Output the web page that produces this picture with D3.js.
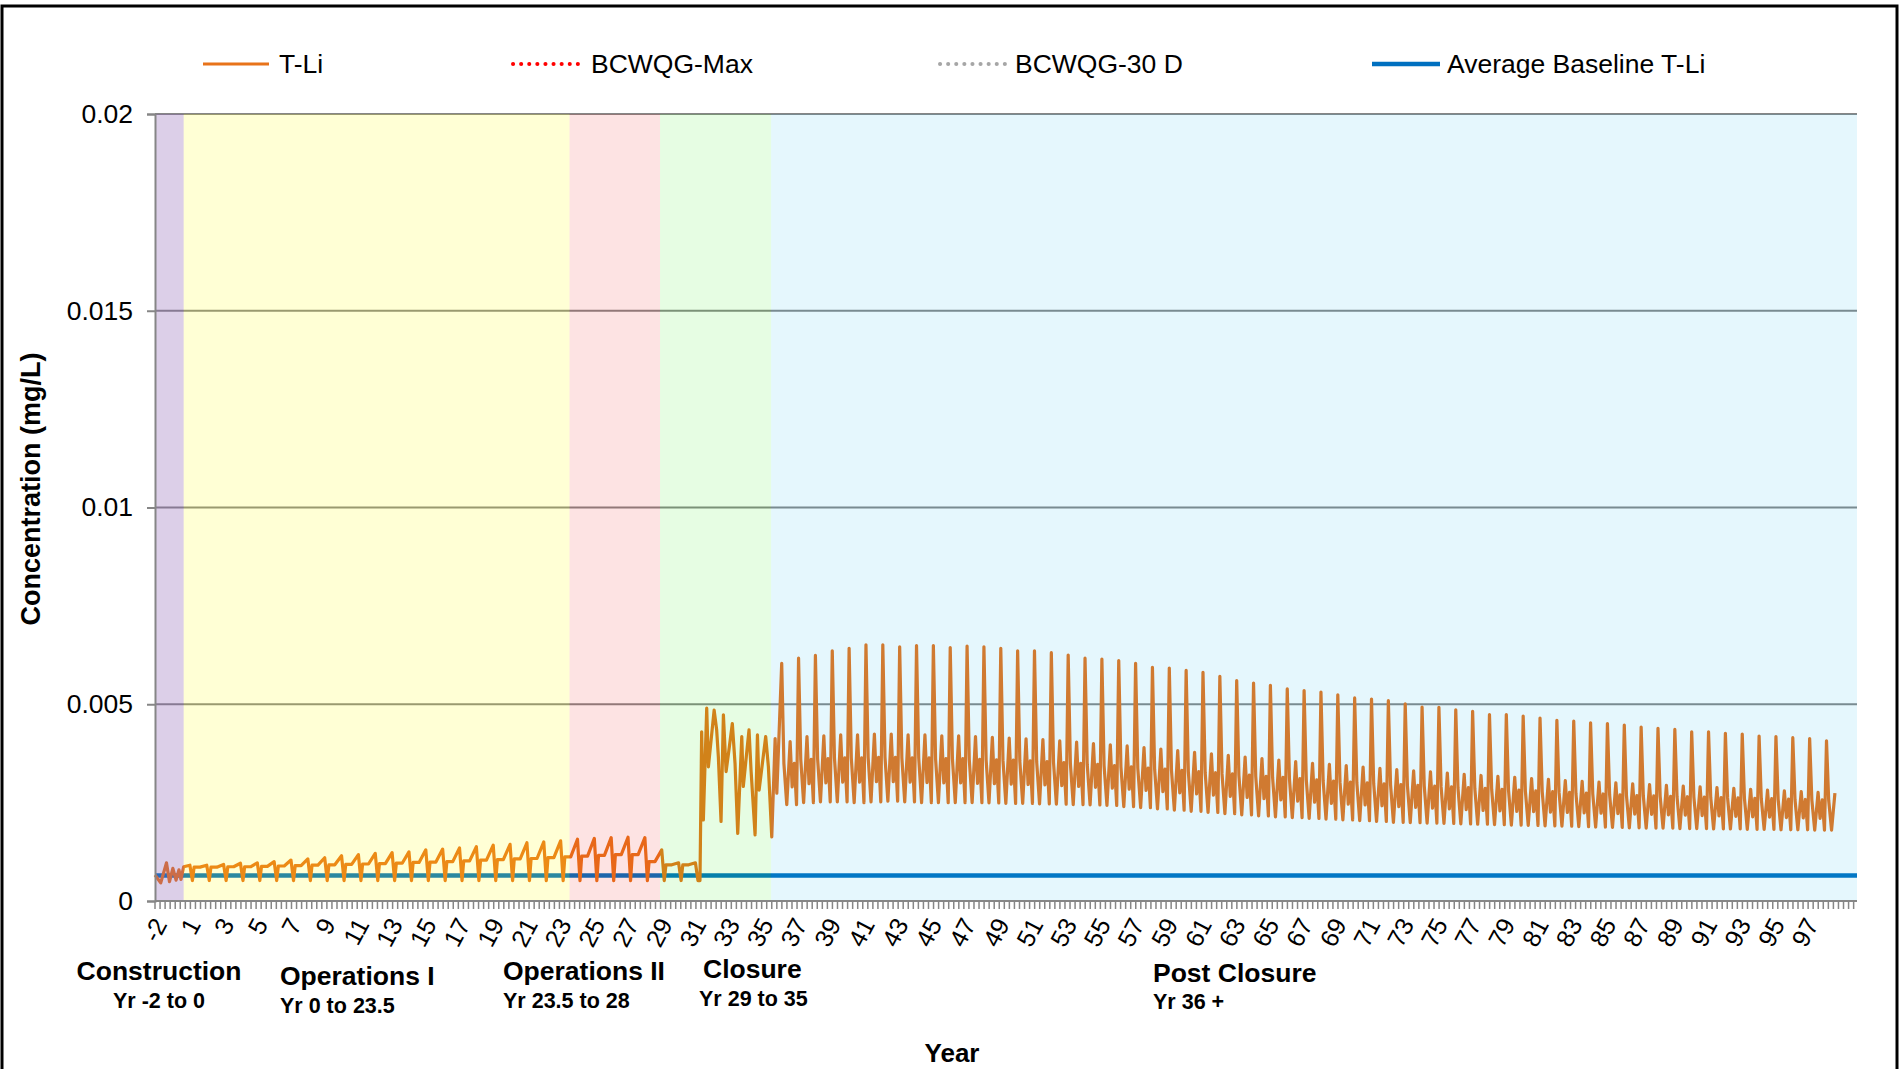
<!DOCTYPE html>
<html lang="en">
<head>
<meta charset="UTF-8">
<title>T-Li concentration</title>
<script src="https://cdn.jsdelivr.net/npm/d3@7"></script>
<style>
  body { margin: 0; background: #fff; }
  svg { display: block; font-family: Arial, "Liberation Sans", sans-serif; }
</style>
</head>
<body>
<svg id="chart" width="1902" height="1069"></svg>
<script>
// x runs in "record years": 0 = left edge of the axis, one unit per annual cycle
var tickLabels = ["-2","1","3","5","7","9","11","13","15","17","19","21","23","25","27","29",
  "31","33","35","37","39","41","43","45","47","49","51","53","55","57","59","61","63","65",
  "67","69","71","73","75","77","79","81","83","85","87","89","91","93","95","97"];
var yTicks = [0, 0.005, 0.01, 0.015, 0.02];
var yTickLabels = ["0", "0.005", "0.01", "0.015", "0.02"];

var phaseNames = ["Construction", "Operations I", "Operations II", "Closure", "Post Closure"];
var phaseRanges = ["Yr -2 to 0", "Yr 0 to 23.5", "Yr 23.5 to 28", "Yr 29 to 35", "Yr 36 +"];
var phaseStart = [0, 1.70, 24.6, 29.97, 36.56];
var phaseEnd = [1.70, 24.6, 29.97, 36.56, 101];

var baselineTLi = 0.00065;

// construction period, read point by point
var constructionYear = [0, 0.34, 0.68, 0.86, 1.06, 1.25, 1.42, 1.54, 1.70, 2.07];
var constructionVal = [0.00066, 0.00046, 0.00097, 0.00049, 0.00083, 0.00053, 0.00079, 0.00055, 0.00087, 0.00091];

// operations: one cycle per year, first trough at year 2.22
var opsFirstTrough = 2.22;
var opsPeak = [0.00091, 0.00093, 0.00096, 0.00097, 0.00100, 0.00104, 0.00107, 0.00110, 0.00115, 0.00118,
  0.00121, 0.00123, 0.00125, 0.00130, 0.00132, 0.00135, 0.00138, 0.00142, 0.00144, 0.00148,
  0.00150, 0.00153, 0.00157, 0.00159, 0.00161, 0.00162, 0.00161, 0.00130, 0.00097, 0.00097];
var opsMid = [0.00086, 0.00086, 0.00087, 0.00087, 0.00088, 0.00089, 0.00090, 0.00091, 0.00092, 0.00093,
  0.00094, 0.00095, 0.00096, 0.00098, 0.00099, 0.00100, 0.00102, 0.00104, 0.00105, 0.00107,
  0.00108, 0.00110, 0.00112, 0.00114, 0.00116, 0.00118, 0.00118, 0.00100, 0.00092, 0.00092];
var opsLow = [0.00052, 0.00052, 0.00052, 0.00052, 0.00052, 0.00052, 0.00052, 0.00052, 0.00052, 0.00052,
  0.00052, 0.00052, 0.00052, 0.00052, 0.00052, 0.00052, 0.00052, 0.00052, 0.00052, 0.00052,
  0.00052, 0.00052, 0.00052, 0.00052, 0.00052, 0.00052, 0.00052, 0.00052, 0.00052, 0.00052];

// closure, read point by point
var closureYear = [32.34, 32.44, 32.54, 32.74, 32.84, 33.18, 33.33, 33.43, 33.59, 33.73, 33.89, 34.02, 34.26,
  34.42, 34.58, 34.82, 34.91, 35.25, 35.37, 35.61, 35.75, 35.85, 36.24, 36.40, 36.60, 36.80, 36.90];
var closureVal = [0.00052, 0.00430, 0.00206, 0.00490, 0.00341, 0.00485, 0.00435, 0.00367, 0.00202, 0.00473,
  0.00329, 0.00371, 0.00451, 0.00350, 0.00172, 0.00418, 0.00291, 0.00435, 0.00333, 0.00168,
  0.00422, 0.00282, 0.00418, 0.00341, 0.00163, 0.00413, 0.00274];

// post closure: one cycle per year, first spike at year 37.19, record ends at 99.8
var postFirstPeak = 37.19;
var postEnd = 99.8;
var postPeak = [0.00604, 0.00617, 0.00624, 0.00636, 0.00642, 0.00651, 0.00651, 0.00646, 0.00649, 0.00649,
  0.00644, 0.00648, 0.00646, 0.00642, 0.00636, 0.00636, 0.00631, 0.00625, 0.00617, 0.00615,
  0.00611, 0.00604, 0.00594, 0.00592, 0.00586, 0.00581, 0.00571, 0.00560, 0.00554, 0.00548,
  0.00539, 0.00535, 0.00531, 0.00524, 0.00516, 0.00513, 0.00509, 0.00501, 0.00493, 0.00492,
  0.00486, 0.00482, 0.00474, 0.00474, 0.00470, 0.00465, 0.00459, 0.00457, 0.00453, 0.00451,
  0.00447, 0.00442, 0.00439, 0.00436, 0.00430, 0.00430, 0.00426, 0.00424, 0.00419, 0.00418,
  0.00415, 0.00413, 0.00407];
var postShoulder = [0.00350, 0.00360, 0.00362, 0.00364, 0.00364, 0.00365, 0.00365, 0.00364, 0.00364, 0.00362,
  0.00362, 0.00360, 0.00359, 0.00358, 0.00356, 0.00354, 0.00352, 0.00350, 0.00347, 0.00344,
  0.00341, 0.00338, 0.00335, 0.00332, 0.00329, 0.00326, 0.00323, 0.00320, 0.00317, 0.00314,
  0.00311, 0.00308, 0.00305, 0.00302, 0.00300, 0.00298, 0.00296, 0.00294, 0.00292, 0.00290,
  0.00288, 0.00286, 0.00284, 0.00282, 0.00280, 0.00278, 0.00276, 0.00274, 0.00272, 0.00270,
  0.00268, 0.00267, 0.00266, 0.00265, 0.00264, 0.00263, 0.00262, 0.00261, 0.00260, 0.00259,
  0.00258, 0.00257, 0.00256];
var postDip = [0.00290, 0.00298, 0.00300, 0.00302, 0.00302, 0.00303, 0.00303, 0.00302, 0.00301, 0.00300,
  0.00300, 0.00299, 0.00298, 0.00297, 0.00296, 0.00295, 0.00293, 0.00291, 0.00289, 0.00287,
  0.00284, 0.00281, 0.00278, 0.00275, 0.00272, 0.00269, 0.00266, 0.00263, 0.00260, 0.00257,
  0.00254, 0.00251, 0.00248, 0.00246, 0.00244, 0.00242, 0.00240, 0.00238, 0.00236, 0.00234,
  0.00232, 0.00230, 0.00229, 0.00228, 0.00227, 0.00226, 0.00225, 0.00224, 0.00223, 0.00222,
  0.00221, 0.00220, 0.00219, 0.00218, 0.00217, 0.00216, 0.00215, 0.00214, 0.00213, 0.00212,
  0.00211, 0.00210, 0.00209];
var postTrough = [0.00245, 0.00250, 0.00252, 0.00252, 0.00250, 0.00252, 0.00254, 0.00252, 0.00250, 0.00250,
  0.00250, 0.00250, 0.00249, 0.00248, 0.00248, 0.00247, 0.00246, 0.00245, 0.00244, 0.00243,
  0.00240, 0.00237, 0.00234, 0.00231, 0.00228, 0.00225, 0.00222, 0.00219, 0.00216, 0.00214,
  0.00212, 0.00210, 0.00208, 0.00206, 0.00204, 0.00202, 0.00200, 0.00199, 0.00198, 0.00197,
  0.00196, 0.00195, 0.00194, 0.00193, 0.00192, 0.00191, 0.00190, 0.00189, 0.00188, 0.00187,
  0.00186, 0.00185, 0.00185, 0.00184, 0.00184, 0.00183, 0.00183, 0.00182, 0.00182, 0.00181,
  0.00181, 0.00180, 0.00180];
var postSecond = [0.00405, 0.00418, 0.00420, 0.00422, 0.00422, 0.00424, 0.00424, 0.00422, 0.00422, 0.00420,
  0.00420, 0.00418, 0.00416, 0.00414, 0.00412, 0.00410, 0.00407, 0.00404, 0.00400, 0.00397,
  0.00394, 0.00390, 0.00386, 0.00382, 0.00378, 0.00374, 0.00370, 0.00366, 0.00362, 0.00358,
  0.00354, 0.00350, 0.00347, 0.00344, 0.00340, 0.00337, 0.00334, 0.00331, 0.00328, 0.00325,
  0.00322, 0.00319, 0.00317, 0.00314, 0.00311, 0.00309, 0.00306, 0.00304, 0.00302, 0.00300,
  0.00298, 0.00296, 0.00294, 0.00292, 0.00290, 0.00288, 0.00286, 0.00284, 0.00282, 0.00280,
  0.00278, 0.00276, 0.00274];

// ---------- layout ----------
var svg = d3.select("#chart");
var plot = { left: 155, right: 1857, top: 114, bottom: 901 };
var x = d3.scaleLinear().domain([0, 101]).range([plot.left, plot.right]);
var y = d3.scaleLinear().domain([0, 0.02]).range([plot.bottom, plot.top]);

var axisGray = "#868686";
var tliColor = "#e8731a";
var baseColor = "#0070c0";
var bandFill = ["rgb(138,95,178)", "rgb(255,255,8)", "rgb(238,22,22)", "rgb(47,238,22)", "rgb(22,180,235)"];
var bandAlpha = [0.3, 0.17, 0.12, 0.12, 0.11];

// build the T-Li series
var tli = [];
constructionYear.forEach(function (t, i) { tli.push([t, constructionVal[i]]); });
opsPeak.forEach(function (p, k) {
  var t0 = opsFirstTrough + k;
  tli.push([t0, opsLow[k]]);
  tli.push([t0 + 0.1, opsMid[k]]);
  tli.push([t0 + 0.45, opsMid[k]]);
  tli.push([t0 + 0.85, p]);
});
tli.push([opsFirstTrough + opsPeak.length, opsLow[opsLow.length - 1]]);
closureYear.forEach(function (t, i) { tli.push([t, closureVal[i]]); });
postPeak.forEach(function (p, k) {
  var t0 = postFirstPeak + k;
  [[0, p], [0.13, postShoulder[k]], [0.3, postTrough[k]], [0.5, postSecond[k]],
   [0.62, postDip[k]], [0.75, postShoulder[k]], [0.88, postTrough[k]]]
    .forEach(function (d) { if (t0 + d[0] <= postEnd) tli.push([t0 + d[0], d[1]]); });
});

// gridlines
svg.append("g").selectAll("line").data(yTicks.slice(1)).enter().append("line")
  .attr("x1", x(0)).attr("x2", plot.right)
  .attr("y1", function (d) { return y(d); }).attr("y2", function (d) { return y(d); })
  .attr("stroke", axisGray).attr("stroke-width", 2);

// series
var line = d3.line().x(function (d) { return x(d[0]); }).y(function (d) { return y(d[1]); });
svg.append("path").datum([[0, baselineTLi], [101, baselineTLi]])
  .attr("d", line).attr("fill", "none").attr("stroke", baseColor).attr("stroke-width", 4.5);
svg.append("path").datum(tli)
  .attr("d", line).attr("fill", "none").attr("stroke", tliColor).attr("stroke-width", 3.2)
  .attr("stroke-linejoin", "round");

// phase bands (translucent, over the lines)
svg.append("g").selectAll("rect").data(phaseStart).enter().append("rect")
  .attr("x", function (d) { return x(d); })
  .attr("width", function (d, i) { return x(phaseEnd[i]) - x(d); })
  .attr("y", plot.top).attr("height", plot.bottom - plot.top)
  .attr("fill", function (d, i) { return bandFill[i]; })
  .attr("fill-opacity", function (d, i) { return bandAlpha[i]; });

// y axis
var yAxis = svg.append("g").attr("transform", "translate(" + plot.left + ",0)")
  .call(d3.axisLeft(y).tickValues(yTicks).tickSize(8).tickPadding(14)
    .tickFormat(function (d, i) { return yTickLabels[i]; }));
yAxis.selectAll("line").attr("stroke", axisGray).attr("stroke-width", 2);
yAxis.select(".domain").attr("stroke", axisGray).attr("stroke-width", 2);
yAxis.selectAll("text").attr("font-size", 26.5).attr("fill", "#000")
  .attr("font-family", "Arial, 'Liberation Sans', sans-serif");

// x axis: minor ticks + rotated labels
var xAxisG = svg.append("g").attr("transform", "translate(0," + plot.bottom + ")");
xAxisG.append("line").attr("x1", plot.left).attr("x2", plot.right)
  .attr("stroke", axisGray).attr("stroke-width", 2);
xAxisG.selectAll("line.minor").data(d3.range(0, 101.01, 0.3)).enter().append("line")
  .attr("class", "minor")
  .attr("x1", function (d) { return x(d); }).attr("x2", function (d) { return x(d); })
  .attr("y1", 0).attr("y2", 8).attr("stroke", axisGray).attr("stroke-width", 1.5);
xAxisG.selectAll("text").data(tickLabels).enter().append("text")
  .attr("transform", function (d, i) { return "translate(" + (x(i * 2) + 5) + ",19) rotate(-62)"; })
  .attr("text-anchor", "end").attr("dy", "0.35em")
  .attr("font-size", 25).text(function (d) { return d; });

// phase captions under the axis
var capX = [159, 280, 503, 703, 1153];
var capAnchor = ["middle", "start", "start", "start", "start"];
var subX = [159, 280, 503, 699, 1153];
var capY = [980, 985, 980, 978, 982];
var subY = [1008, 1013, 1008, 1006, 1009];
phaseNames.forEach(function (n, i) {
  svg.append("text").attr("x", capX[i]).attr("y", capY[i]).attr("text-anchor", capAnchor[i])
    .attr("font-size", 26.5).attr("font-weight", "bold").text(n);
  svg.append("text").attr("x", subX[i]).attr("y", subY[i]).attr("text-anchor", capAnchor[i])
    .attr("font-size", 21.5).attr("font-weight", "bold").text(phaseRanges[i]);
});

// axis titles
svg.append("text").attr("x", 952).attr("y", 1062).attr("text-anchor", "middle")
  .attr("font-size", 26).attr("font-weight", "bold").text("Year");
svg.append("text").attr("transform", "translate(40,489) rotate(-90)").attr("text-anchor", "middle")
  .attr("font-size", 27).attr("font-weight", "bold").text("Concentration (mg/L)");

// legend
var legend = [
  { name: "T-Li", x0: 203, x1: 269, tx: 279, color: tliColor, w: 3.2, dash: null },
  { name: "BCWQG-Max", x0: 513, x1: 579, tx: 591, color: "#ff0000", w: 4, dash: "0.1 8" },
  { name: "BCWQG-30 D", x0: 940, x1: 1006, tx: 1015, color: "#a6a6a6", w: 4, dash: "0.1 8" },
  { name: "Average Baseline T-Li", x0: 1372, x1: 1440, tx: 1447, color: baseColor, w: 4.5, dash: null }
];
var lg = svg.append("g").selectAll("g").data(legend).enter().append("g");
lg.append("line").attr("x1", function (d) { return d.x0; }).attr("x2", function (d) { return d.x1; })
  .attr("y1", 64).attr("y2", 64)
  .attr("stroke", function (d) { return d.color; }).attr("stroke-width", function (d) { return d.w; })
  .attr("stroke-dasharray", function (d) { return d.dash; })
  .attr("stroke-linecap", function (d) { return d.dash ? "round" : "butt"; });
lg.append("text").attr("x", function (d) { return d.tx; }).attr("y", 64).attr("dy", "0.35em")
  .attr("font-size", 26.5).text(function (d) { return d.name; });

// outer frame
svg.append("rect").attr("x", 2).attr("y", 6).attr("width", 1895).attr("height", 1100)
  .attr("fill", "none").attr("stroke", "#000").attr("stroke-width", 3);
</script>
</body>
</html>
